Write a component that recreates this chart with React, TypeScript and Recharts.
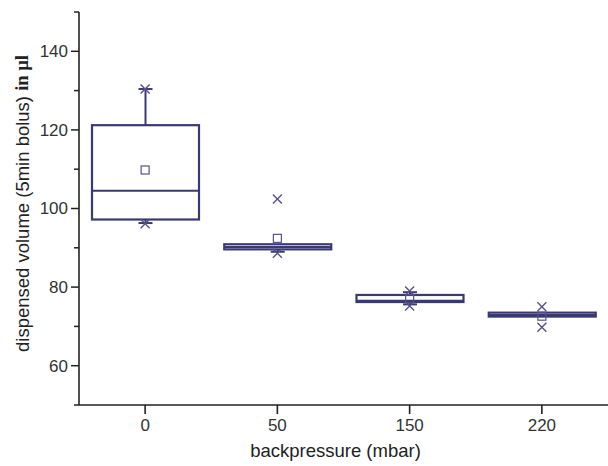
import { ComposedChart, Bar, Scatter, XAxis, YAxis } from "recharts";

const categories = ["0", "50", "150", "220"];
const q1 = [97.2, 89.6, 76.2, 72.5];
const q3 = [121.2, 90.9, 78.0, 73.5];
const median = [104.5, 90.2, 76.5, 72.9];
const mean = [109.8, 92.4, 77.0, 72.6];
const whiskerHigh = [130.4, 90.9, 78.7, 73.5];
const whiskerLow = [96.3, 89.0, 75.6, 72.5];
const maxVal = [130.4, 102.4, 79.0, 75.0];
const minVal = [96.1, 88.6, 75.2, 69.8];
const yTicks = [50, 60, 70, 80, 90, 100, 110, 120, 130, 140, 150];
const yLabels = [60, 80, 100, 120, 140];

const data = categories.map((c, i) => ({
  name: c,
  box: [q1[i], q3[i]],
  q1: q1[i],
  q3: q3[i],
  median: median[i],
  mean: mean[i],
  wHigh: whiskerHigh[i],
  wLow: whiskerLow[i],
  max: maxVal[i],
  min: minVal[i],
}));

const BOX = "#3b3972";
const MARK = "#56538b";
const AXIS = "#222";
const FONT = "'Liberation Sans', Arial, sans-serif";

function BoxShape(props: any) {
  const { x, y, width, height, payload } = props;
  const ppu = height / (payload.q3 - payload.q1);
  const toY = (v: number) => y + (payload.q3 - v) * ppu;
  const cx = x + width / 2;
  const yMed = toY(payload.median);
  const yHi = toY(payload.wHigh);
  const yLo = toY(payload.wLow);
  const bottom = y + height;
  return (
    <g stroke={BOX} fill="none">
      {yHi < y - 0.5 && (
        <>
          <line x1={cx} x2={cx} y1={y} y2={yHi} strokeWidth={2} />
          <line x1={cx - 7} x2={cx + 7} y1={yHi} y2={yHi} strokeWidth={2} />
        </>
      )}
      {yLo > bottom + 0.5 && (
        <>
          <line x1={cx} x2={cx} y1={bottom} y2={yLo} strokeWidth={2} />
          <line x1={cx - 7} x2={cx + 7} y1={yLo} y2={yLo} strokeWidth={2} />
        </>
      )}
      <rect x={x} y={y} width={width} height={height} strokeWidth={2.2} fill="#fff" />
      <line x1={x} x2={x + width} y1={yMed} y2={yMed} strokeWidth={2} />
    </g>
  );
}

function SquareMark(props: any) {
  const { cx, cy } = props;
  return <rect x={cx - 4} y={cy - 4} width={8} height={8} fill="none" stroke={MARK} strokeWidth={1.2} />;
}

function CrossMark(props: any) {
  const { cx, cy } = props;
  const r = 4.5;
  return (
    <g stroke={MARK} strokeWidth={1.4}>
      <line x1={cx - r} y1={cy - r} x2={cx + r} y2={cy + r} />
      <line x1={cx - r} y1={cy + r} x2={cx + r} y2={cy - r} />
    </g>
  );
}

function YTick(props: any) {
  const { x, y, payload } = props;
  const labeled = yLabels.includes(payload.value);
  const len = labeled ? 8 : 5;
  return (
    <g>
      <line x1={x - len} x2={x} y1={y} y2={y} stroke={AXIS} strokeWidth={1.5} />
      {labeled && (
        <text x={x - 11} y={y} dy="0.35em" textAnchor="end" fontSize={17} fontFamily={FONT} fill="#333">
          {payload.value}
        </text>
      )}
    </g>
  );
}

export default function App() {
  return (
    <div style={{ position: "absolute", left: 0, top: 0, background: "#fff" }}>
      <ComposedChart width={608} height={466} data={data} margin={{ top: 12, right: 0, left: 0, bottom: 0 }}>
        <XAxis
          dataKey="name"
          height={61}
          stroke={AXIS}
          strokeWidth={1.6}
          tickSize={9}
          tickMargin={5}
          tick={{ fontSize: 17, fontFamily: FONT, fill: "#333" }}
          label={{ value: "backpressure (mbar)", position: "insideBottom", offset: 0, dy: -9, dx: -8, fontSize: 18.5, fontFamily: FONT, fill: "#222" }}
        />
        <YAxis
          width={79}
          type="number"
          domain={[50, 150]}
          ticks={yTicks}
          interval={0}
          tickSize={0}
          tickMargin={0}
          tickLine={false}
          stroke={AXIS}
          strokeWidth={1.6}
          tick={YTick}
          label={(p: any) => {
            const vb = p.viewBox;
            const cy = vb.y + vb.height / 2 - 5;
            return (
              <text x={22} y={cy} transform={`rotate(-90 22 ${cy})`} textAnchor="middle" dominantBaseline="central" fontSize={18.5} fontFamily={FONT} fill="#222">
                dispensed volume (5min bolus){" "}
                <tspan fontFamily="'Liberation Serif', 'Times New Roman', serif" fontWeight="bold">in µl</tspan>
              </text>
            );
          }}
        />
        <Bar dataKey="box" barSize={107} shape={BoxShape} isAnimationActive={false} />
        <Scatter dataKey="mean" shape={SquareMark} isAnimationActive={false} />
        <Scatter dataKey="max" shape={CrossMark} isAnimationActive={false} />
        <Scatter dataKey="min" shape={CrossMark} isAnimationActive={false} />
      </ComposedChart>
    </div>
  );
}
